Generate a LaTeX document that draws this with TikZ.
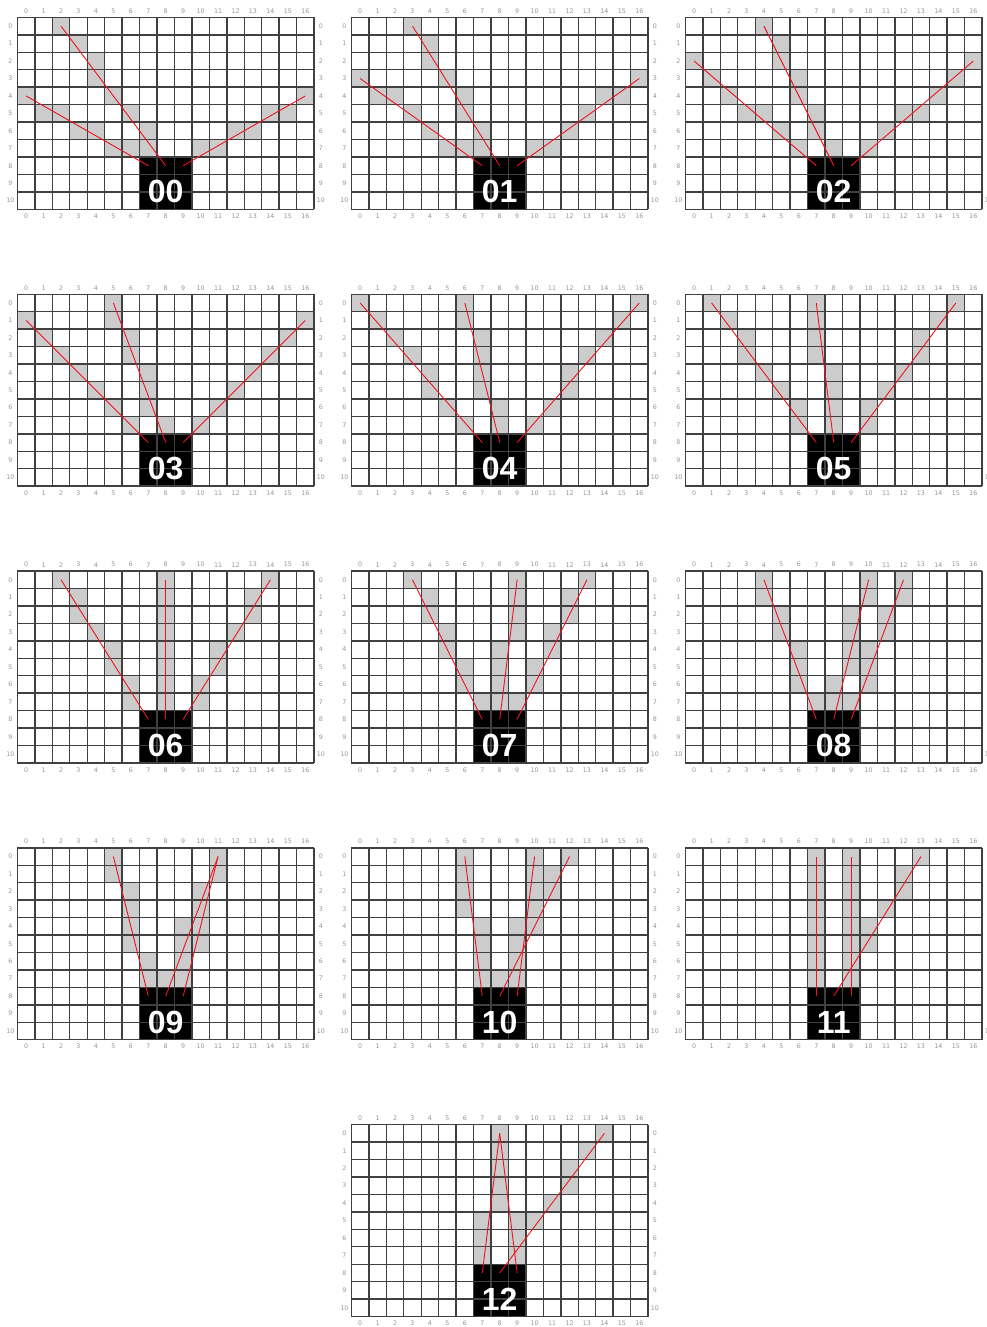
\documentclass[tikz,border=0pt]{standalone}
\usepackage{fontspec}
\setmainfont{Liberation Sans}
\newfontfamily\tickfont{DejaVu Sans}
\definecolor{gridln}{RGB}{64,64,64}
\definecolor{cellgray}{RGB}{204,204,204}
\definecolor{ticklab}{RGB}{150,150,150}
\definecolor{rayred}{RGB}{238,20,30}
% cells visited by a ray from (#1,#2) to (#3,#4); x rounds half towards column 8
\newcommand\raycells[4]{%
  \pgfmathtruncatemacro\rdx{#3-#1}%
  \pgfmathtruncatemacro\rdy{#4-#2}%
  \pgfmathtruncatemacro\rnn{max(abs(\rdx),abs(\rdy))}%
  \foreach \kk in {1,...,\rnn}{%
    \pgfmathsetmacro\gux{#1+\rdx*\kk/\rnn-8}%
    \pgfmathtruncatemacro\gcx{8+sign(\gux)*floor(abs(\gux)+0.499)}%
    \pgfmathtruncatemacro\gcy{#2+sign(\rdy)*floor(abs(\rdy)*\kk/\rnn+0.499)}%
    \fill[cellgray] (\gcx,\gcy) rectangle ++(1,1);
  }%
}
\tikzset{
  gridline/.style={draw=gridln, line width=1.4pt},
  ray/.style={draw=rayred, line width=0.9pt},
  ticknum/.style={text=ticklab, inner sep=0pt, font=\tickfont\fontsize{6.3}{7}\selectfont},
  biglab/.style={text=white, inner sep=0pt, font=\bfseries\fontsize{32}{32}\selectfont},
  startbox/.style={fill=black}
}
\begin{document}
\begin{tikzpicture}[x=1pt,y=-1pt]
\useasboundingbox[fill=white] (0,0) rectangle (986,1327);
\foreach \gid/\gcol/\grow/\ax/\ay/\bx/\by/\ccx/\ccy in {
  00/0/0/0/4/2/0/16/4,
  01/1/0/0/3/3/0/16/3,
  02/2/0/0/2/4/0/16/2,
  03/0/1/0/1/5/0/16/1,
  04/1/1/0/0/6/0/16/0,
  05/2/1/1/0/7/0/15/0,
  06/0/2/2/0/8/0/14/0,
  07/1/2/3/0/9/0/13/0,
  08/2/2/4/0/10/0/12/0,
  09/0/3/5/0/11/0/11/0,
  10/1/3/6/0/12/0/10/0,
  11/2/3/7/0/13/0/9/0,
  12/1/4/8/0/14/0/8/0}{
  \pgfmathsetmacro\gX{17.4+334*\gcol}
  \pgfmathsetmacro\gY{17.4+276.8*\grow}
  \begin{scope}[shift={(\gX,\gY)}, x=17.45pt, y=-17.45pt]
    % traced cells
    \raycells{7}{8}{\ax}{\ay}
    \raycells{8}{8}{\bx}{\by}
    \raycells{9}{8}{\ccx}{\ccy}
    % start block
    \fill[startbox] (7,8) rectangle (10,11);
    % grid
    \foreach \i in {0,...,17} \draw[gridline] (\i,0) -- (\i,11);
    \foreach \j in {0,...,11} \draw[gridline] (0,\j) -- (17,\j);
    % tick numbers
    \foreach \i in {0,...,16}{
      \node[ticknum, yshift=6.3pt] (g\gid-top\i) at (\i+0.5,0) {\i};
      \node[ticknum, yshift=-6.8pt] (g\gid-bot\i) at (\i+0.5,11) {\i};
    }
    \foreach \j in {0,...,10}{
      \node[ticknum, xshift=-7pt] (g\gid-left\j) at (0,\j+0.5) {\j};
      \node[ticknum, xshift=6.8pt] (g\gid-right\j) at (17,\j+0.5) {\j};
    }
    % rays
    \coordinate (g\gid-s7) at (7.5,8.5);
    \coordinate (g\gid-s8) at (8.5,8.5);
    \coordinate (g\gid-s9) at (9.5,8.5);
    \coordinate (g\gid-ta) at (\ax+0.5,\ay+0.5);
    \coordinate (g\gid-tb) at (\bx+0.5,\by+0.5);
    \coordinate (g\gid-tc) at (\ccx+0.5,\ccy+0.5);
    \draw[ray] (g\gid-s7) -- (g\gid-ta);
    \draw[ray] (g\gid-s8) -- (g\gid-tb);
    \draw[ray] (g\gid-s9) -- (g\gid-tc);
    % label
    \node[biglab] (g\gid-lab) at (8.5,10) {\gid};
  \end{scope}
}
\end{tikzpicture}
\end{document}
